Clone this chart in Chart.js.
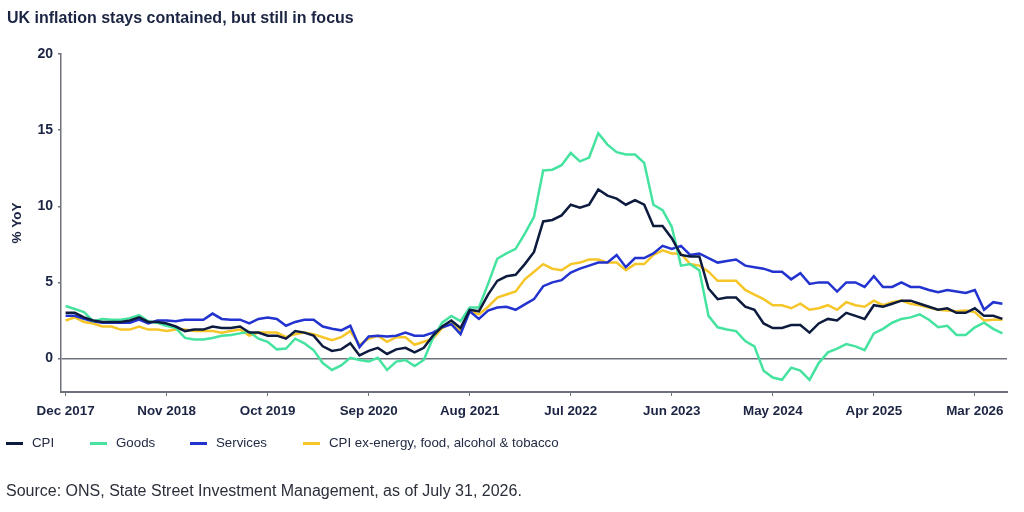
<!DOCTYPE html>
<html>
<head>
<meta charset="utf-8">
<script src="https://cdn.jsdelivr.net/npm/chart.js@4.4.1/dist/chart.umd.min.js"></script>
<style>
  html, body { margin: 0; padding: 0; background: #fff; }
  #wrap { position: relative; width: 1024px; height: 512px; font-family: "Liberation Sans", Arial, sans-serif; }
  #chart { position: absolute; left: 0; top: 0; }
  .title { position: absolute; left: 7px; top: 8px; font-size: 16px; font-weight: bold; color: #1b2443; line-height: 20px; white-space: nowrap; }
  .legend-item { position: absolute; top: 433px; height: 20px; line-height: 20px; font-size: 13.3px; color: #232b45; white-space: nowrap; }
  .legend-item i { position: absolute; left: 0; top: 9px; width: 17px; height: 2.5px; }
  .legend-item span { position: absolute; left: 26px; }
  .source { position: absolute; left: 6px; top: 481px; font-size: 16px; color: #2a2f3a; line-height: 20px; white-space: nowrap; }
</style>
</head>
<body>
<div id="wrap">
  <canvas id="chart" width="1024" height="512"></canvas>
  <div class="title">UK inflation stays contained, but still in focus</div>
  <div id="legend"></div>
  <div class="source">Source: ONS, State Street Investment Management, as of July 31, 2026.</div>
</div>
<script>
// monthly, Dec 2017 .. Jun 2026
const monthNames = ['Jan', 'Feb', 'Mar', 'Apr', 'May', 'Jun', 'Jul', 'Aug', 'Sep', 'Oct', 'Nov', 'Dec'];
const categories = [];
for (let y = 2017, m = 11; y < 2026 || m <= 5; m++) {
    if (m > 11) { m = 0; y++; }
    categories.push(monthNames[m] + ' ' + y);
}

const tickLabels = ['Dec 2017', 'Nov 2018', 'Oct 2019', 'Sep 2020', 'Aug 2021',
    'Jul 2022', 'Jun 2023', 'May 2024', 'Apr 2025', 'Mar 2026'];

const cpi = [3.0, 3.0, 2.7, 2.5, 2.4, 2.4, 2.4, 2.5, 2.7, 2.4, 2.4, 2.3,
    2.1, 1.8, 1.9, 1.9, 2.1, 2.0, 2.0, 2.1, 1.7, 1.7, 1.5, 1.5,
    1.3, 1.8, 1.7, 1.5, 0.8, 0.5, 0.6, 1.0, 0.2, 0.5, 0.7, 0.3,
    0.6, 0.7, 0.4, 0.7, 1.5, 2.1, 2.5, 2.0, 3.2, 3.1, 4.2, 5.1,
    5.4, 5.5, 6.2, 7.0, 9.0, 9.1, 9.4, 10.1, 9.9, 10.1, 11.1, 10.7,
    10.5, 10.1, 10.4, 10.1, 8.7, 8.7, 7.9, 6.8, 6.7, 6.7, 4.6, 3.9,
    4.0, 4.0, 3.4, 3.2, 2.3, 2.0, 2.0, 2.2, 2.2, 1.7, 2.3, 2.6,
    2.5, 3.0, 2.8, 2.6, 3.5, 3.4, 3.6, 3.8, 3.8, 3.6, 3.4, 3.2,
    3.3, 3.0, 3.0, 3.3, 2.8, 2.8, 2.6];

const goods = [3.45, 3.25, 3.05, 2.45, 2.6, 2.55, 2.55, 2.65, 2.85, 2.45, 2.35, 2.15,
    2.0, 1.35, 1.25, 1.25, 1.35, 1.5, 1.55, 1.65, 1.75, 1.3, 1.1, 0.6,
    0.65, 1.3, 1.0, 0.55, -0.3, -0.75, -0.45, 0.05, -0.1, -0.2, 0.05, -0.75,
    -0.2, -0.1, -0.5, -0.1, 1.35, 2.35, 2.8, 2.45, 3.35, 3.35, 4.9, 6.55,
    6.9, 7.2, 8.2, 9.3, 12.35, 12.4, 12.7, 13.5, 12.95, 13.2, 14.8, 14.05,
    13.55, 13.4, 13.4, 12.85, 10.1, 9.75, 8.65, 6.1, 6.2, 5.8, 2.8, 2.05,
    1.9, 1.8, 1.15, 0.8, -0.8, -1.25, -1.4, -0.6, -0.8, -1.4, -0.3, 0.4,
    0.65, 0.95, 0.8, 0.55, 1.65, 1.95, 2.35, 2.6, 2.7, 2.9, 2.55, 2.05,
    2.15, 1.55, 1.55, 2.05, 2.35, 1.95, 1.65];

const services = [2.8, 2.8, 2.6, 2.45, 2.35, 2.35, 2.35, 2.35, 2.55, 2.3, 2.5, 2.5,
    2.45, 2.55, 2.55, 2.55, 2.95, 2.6, 2.55, 2.55, 2.3, 2.6, 2.7, 2.6,
    2.15, 2.4, 2.55, 2.55, 2.1, 1.95, 1.85, 2.15, 0.75, 1.45, 1.5, 1.45,
    1.5, 1.7, 1.5, 1.5, 1.7, 2.05, 2.25, 1.6, 3.1, 2.6, 3.15, 3.35,
    3.4, 3.2, 3.55, 3.9, 4.75, 5.0, 5.15, 5.65, 5.9, 6.1, 6.3, 6.3,
    6.8, 6.0, 6.6, 6.6, 6.9, 7.4, 7.2, 7.4, 6.8, 6.9, 6.6, 6.3,
    6.4, 6.5, 6.1, 6.0, 5.9, 5.7, 5.7, 5.2, 5.6, 4.9, 5.0, 5.0,
    4.4, 5.0, 5.0, 4.7, 5.4, 4.7, 4.7, 5.0, 4.7, 4.7, 4.5, 4.35,
    4.5, 4.4, 4.3, 4.5, 3.2, 3.7, 3.6];

const core = [2.5, 2.7, 2.4, 2.3, 2.1, 2.1, 1.9, 1.9, 2.1, 1.9, 1.9, 1.8,
    1.9, 1.9, 1.8, 1.8, 1.8, 1.7, 1.8, 1.9, 1.5, 1.7, 1.7, 1.7,
    1.4, 1.6, 1.7, 1.6, 1.4, 1.2, 1.4, 1.8, 0.9, 1.3, 1.5, 1.1,
    1.4, 1.4, 0.9, 1.1, 1.3, 2.0, 2.3, 1.8, 3.1, 2.9, 3.4, 4.0,
    4.2, 4.4, 5.2, 5.7, 6.2, 5.9, 5.8, 6.2, 6.3, 6.5, 6.5, 6.3,
    6.3, 5.8, 6.2, 6.2, 6.8, 7.1, 6.9, 6.9, 6.2, 6.1, 5.7, 5.1,
    5.1, 5.1, 4.5, 4.2, 3.9, 3.5, 3.5, 3.3, 3.6, 3.2, 3.3, 3.5,
    3.2, 3.7, 3.5, 3.4, 3.8, 3.5, 3.7, 3.8, 3.6, 3.5, 3.35, 3.2,
    3.15, 3.1, 3.15, 3.05, 2.5, 2.55, 2.55];

const seriesNames = ['CPI', 'Goods', 'Services', 'CPI ex-energy, food, alcohol & tobacco'];
const seriesColors = ['#0d1b3e', '#45e39f', '#2233cf', '#f6c629'];
const legendLeft = [6, 90, 190, 303];

const axisGrey = '#6e727c';
const navy = '#1b2443';
const font = "'Liberation Sans', Arial, sans-serif";

const datasets = [cpi, goods, services, core].map((values, i) => ({
    label: seriesNames[i],
    data: values,
    borderColor: seriesColors[i],
    backgroundColor: seriesColors[i],
    borderWidth: 2.5,
    pointRadius: 0,
    tension: 0,
    fill: false
}));

new Chart(document.getElementById('chart'), {
    type: 'line',
    data: { labels: categories, datasets: datasets },
    options: {
        responsive: false,
        animation: false,
        layout: { padding: { left: 0, top: 54, right: 17, bottom: 0 } },
        plugins: {
            legend: { display: false },
            tooltip: { enabled: false }
        },
        scales: {
            x: {
                offset: true,
                afterFit: (scale) => { scale.height = 120; },
                border: { display: true, color: axisGrey, width: 2 },
                grid: {
                    display: true,
                    offset: false,
                    drawOnChartArea: false,
                    tickLength: 4,
                    tickColor: (ctx) => tickLabels.includes(categories[ctx.index]) ? axisGrey : 'transparent'
                },
                ticks: {
                    autoSkip: false,
                    maxRotation: 0,
                    padding: 7,
                    color: navy,
                    font: { family: font, size: 13.4, weight: 'bold' },
                    callback: (v, i) => tickLabels.includes(categories[i]) ? categories[i] : ''
                }
            },
            y: {
                min: -2.2,
                max: 20,
                afterFit: (scale) => { scale.width = 61; },
                afterBuildTicks: (scale) => {
                    scale.ticks = [0, 5, 10, 15, 20].map(v => ({ value: v }));
                },
                border: { display: true, color: axisGrey, width: 1.5 },
                grid: {
                    color: (ctx) => ctx.tick && ctx.tick.value === 0 ? axisGrey : 'transparent',
                    lineWidth: 1.5,
                    tickColor: axisGrey,
                    tickLength: 3
                },
                ticks: {
                    padding: 5,
                    color: navy,
                    font: { family: font, size: 14, weight: 'bold' }
                },
                title: {
                    display: true,
                    text: '% YoY',
                    color: navy,
                    padding: { top: 9, bottom: 0 },
                    font: { family: font, size: 13.5, weight: 'bold' }
                }
            }
        }
    }
});

const legend = document.getElementById('legend');
seriesNames.forEach((name, i) => {
    const item = document.createElement('div');
    item.className = 'legend-item';
    item.style.left = legendLeft[i] + 'px';
    item.innerHTML = '<i style="background:' + seriesColors[i] + '"></i><span>' + name + '</span>';
    legend.appendChild(item);
});
</script>
</body>
</html>
